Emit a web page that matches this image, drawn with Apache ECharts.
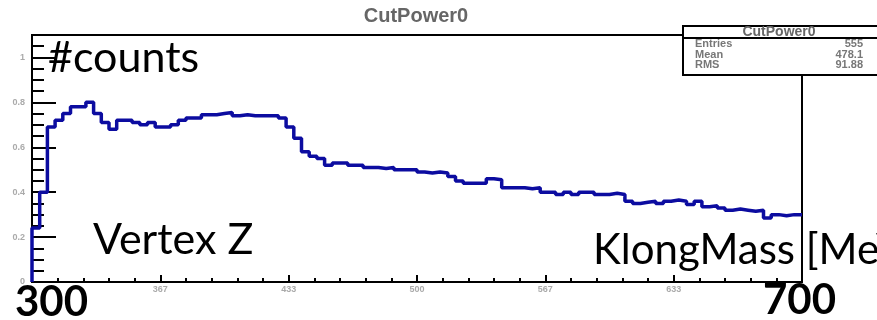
<!DOCTYPE html>
<html>
<head>
<meta charset="utf-8">
<script src="https://cdn.jsdelivr.net/npm/echarts@6/dist/echarts.min.js"></script>
<style>
  html, body { margin: 0; padding: 0; background: #fff; }
  #main { width: 877px; height: 320px; }
</style>
</head>
<body>
<div id="main"></div>
<script>
var chartDom = document.getElementById('main');
var myChart = echarts.init(chartDom);
var option;

// histogram range and binning (KlongMass)
var xMin = 300;
var xMax = 700;
var binWidth = 4;
// bin contents (100 bins of 4)
var counts = [
    0.24, 0.40, 0.69, 0.72, 0.75, 0.78, 0.78, 0.80, 0.75, 0.71,
    0.68, 0.72, 0.72, 0.71, 0.70, 0.71, 0.69, 0.69, 0.70, 0.72,
    0.73, 0.73, 0.745, 0.745, 0.75, 0.755, 0.74, 0.745, 0.74, 0.74,
    0.74, 0.74, 0.73, 0.69, 0.64, 0.58, 0.56, 0.55, 0.52, 0.53,
    0.53, 0.52, 0.52, 0.51, 0.51, 0.505, 0.51, 0.50, 0.50, 0.50,
    0.49, 0.485, 0.49, 0.485, 0.47, 0.45, 0.44, 0.44, 0.44, 0.46,
    0.455, 0.42, 0.42, 0.42, 0.415, 0.42, 0.40, 0.40, 0.39, 0.40,
    0.39, 0.40, 0.40, 0.39, 0.39, 0.395, 0.39, 0.36, 0.35, 0.355,
    0.36, 0.35, 0.36, 0.365, 0.36, 0.345, 0.36, 0.335, 0.34, 0.33,
    0.32, 0.325, 0.32, 0.315, 0.32, 0.285, 0.30, 0.295, 0.30, 0.30
];
// y axis ticks
var yMax = 1.1;
var yMajor = [0, 0.2, 0.4, 0.6, 0.8, 1];
var yMinor = [0.05, 0.1, 0.15, 0.25, 0.3, 0.35, 0.45, 0.5, 0.55, 0.65, 0.7, 0.75, 0.85, 0.9, 0.95, 1.05];
// x axis: 6 major divisions, 5 minor each
var xDivisions = 6;
var xMinorDiv = 5;
// stats box
var statsTitle = 'CutPower0';
var statsRows = [['Entries', '555'], ['Mean', '478.1'], ['RMS', '91.88']];

var xMajor = [], xMinor = [];
for (var k = 0; k <= xDivisions * xMinorDiv; k++) {
    var v = xMin + k * (xMax - xMin) / (xDivisions * xMinorDiv);
    if (k % xMinorDiv === 0) xMajor.push(v); else xMinor.push(v);
}

// step outline: vertical at each bin edge
var histData = [[xMin, 0]];
counts.forEach(function (c, i) {
    histData.push([xMin + (i + 1) * binWidth, c]);
});

var statsGraphics = [
    {
        type: 'rect', z: 100,
        shape: { x: 683, y: 26, width: 210, height: 49 },
        style: { fill: '#fff', stroke: '#000', lineWidth: 2 }
    },
    {
        type: 'line', z: 101,
        shape: { x1: 683, y1: 38, x2: 877, y2: 38 },
        style: { stroke: '#000', lineWidth: 2 }
    },
    {
        type: 'text', z: 101, x: 779, y: 32,
        style: { text: statsTitle, font: 'bold 14px "Liberation Sans"', fill: '#666', align: 'center', verticalAlign: 'middle' }
    }
];
statsRows.forEach(function (r, i) {
    statsGraphics.push({
        type: 'text', z: 101, x: 695, y: 44 + i * 10.5,
        style: { text: r[0], font: 'bold 11px "Liberation Sans"', fill: '#777', align: 'left', verticalAlign: 'middle' }
    });
    statsGraphics.push({
        type: 'text', z: 101, x: 863, y: 44 + i * 10.5,
        style: { text: r[1], font: 'bold 11px "Liberation Sans"', fill: '#777', align: 'right', verticalAlign: 'middle' }
    });
});

option = {
    animation: false,
    backgroundColor: '#fff',
    grid: {
        left: 32, right: 75, top: 35, bottom: 38,
        show: true, borderColor: '#000', borderWidth: 2
    },
    xAxis: [
        {
            type: 'value', min: xMin, max: xMax,
            axisLine: { lineStyle: { color: '#000', width: 2 } },
            axisTick: { inside: true, length: 7, lineStyle: { color: '#000', width: 2 }, customValues: xMajor },
            axisLabel: {
                customValues: xMajor.slice(1, -1),
                fontSize: 9, fontWeight: 'bold', color: '#aaa', margin: 3,
                formatter: function (v) { return Math.round(v); }
            },
            splitLine: { show: false }
        },
        {
            type: 'value', min: xMin, max: xMax, position: 'bottom',
            axisLine: { show: false },
            axisTick: { inside: true, length: 4, lineStyle: { color: '#000', width: 2 }, customValues: xMinor },
            axisLabel: { show: false },
            splitLine: { show: false }
        }
    ],
    yAxis: [
        {
            type: 'value', min: 0, max: yMax,
            axisLine: { show: true, lineStyle: { color: '#000', width: 2 } },
            axisTick: { show: true, inside: true, length: 24, lineStyle: { color: '#000', width: 2 }, customValues: yMajor },
            axisLabel: { customValues: yMajor, fontSize: 9, fontWeight: 'bold', color: '#aaa', margin: 7 },
            splitLine: { show: false }
        },
        {
            type: 'value', min: 0, max: yMax, position: 'left',
            axisLine: { show: false },
            axisTick: { show: true, inside: true, length: 12, lineStyle: { color: '#000', width: 2 }, customValues: yMinor },
            axisLabel: { show: false },
            splitLine: { show: false }
        }
    ],
    series: [
        {
            type: 'line',
            step: 'start',
            data: histData,
            showSymbol: false,
            lineStyle: { color: '#0c0ca0', width: 3.5 }
        }
    ],
    graphic: [
        {
            type: 'text', x: 416, y: 16,
            style: { text: 'CutPower0', font: 'bold 20px "Liberation Sans"', fill: '#666', align: 'center', verticalAlign: 'middle' }
        },
        {
            type: 'text', z: 120, x: 48, y: 58,
            style: { text: '#counts', font: '43px Lato', fill: '#000', align: 'left', verticalAlign: 'middle' }
        },
        {
            type: 'text', z: 120, x: 93, y: 240,
            style: { text: 'Vertex Z', font: '43px Lato', fill: '#000', align: 'left', verticalAlign: 'middle' }
        },
        {
            type: 'text', z: 120, x: 593, y: 250,
            style: { text: 'KlongMass [MeV]', font: '42px Lato', fill: '#000', align: 'left', verticalAlign: 'middle' }
        },
        {
            type: 'text', z: 120, x: 15, y: 302,
            style: { text: '300', font: 'bold 42px Lato', fill: '#000', align: 'left', verticalAlign: 'middle' }
        },
        {
            type: 'text', z: 120, x: 763, y: 300,
            style: { text: '700', font: 'bold 42px Lato', fill: '#000', align: 'left', verticalAlign: 'middle' }
        }
    ].concat(statsGraphics)
};

option && myChart.setOption(option);
</script>
</body>
</html>
